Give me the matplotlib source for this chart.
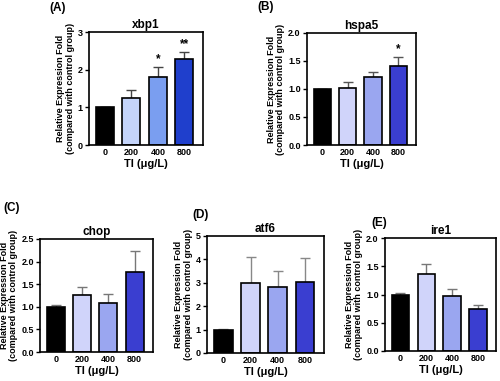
import numpy as np
import matplotlib
matplotlib.use("Agg")
import matplotlib.pyplot as plt

plt.rcParams['font.family'] = ['Liberation Sans', 'DejaVu Sans']
plt.rcParams['font.weight'] = 'bold'

doses = ["0", "200", "400", "800"]

xbp1_mean = [1.00, 1.25, 1.81, 2.27]
xbp1_err = [0.02, 0.20, 0.26, 0.20]
hspa5_mean = [1.00, 1.02, 1.21, 1.41]
hspa5_err = [0.00, 0.10, 0.09, 0.16]
chop_mean = [1.00, 1.27, 1.09, 1.78]
chop_err = [0.03, 0.16, 0.20, 0.45]
atf6_mean = [1.00, 3.00, 2.82, 3.05]
atf6_err = [0.02, 1.10, 0.68, 1.00]
ire1_mean = [0.99, 1.37, 0.97, 0.75]
ire1_err = [0.03, 0.17, 0.12, 0.07]

stars_xbp1 = ["", "", "*", "**"]
stars_hspa5 = ["", "", "", "*"]
stars_none = ["", "", "", ""]

colors_a = ["#000000", "#c4d4fa", "#7a9ef0", "#1f3fcc"]
colors_b = ["#000000", "#d0d4fa", "#9aa6f0", "#3a3ed0"]

W, H = 500, 381
fig = plt.figure(figsize=(W / 100, H / 100), dpi=100)


def px_axes(x0, y0, x1, y1):
    # pixel box (top-left origin) -> figure coords
    return fig.add_axes([x0 / W, 1 - y1 / H, (x1 - x0) / W, (y1 - y0) / H])


def panel(box, title, means, errs, stars, ymax, yticks, yfmt, colors, ecol, letter, lpos):
    ax = px_axes(*box)
    x = np.arange(len(doses))
    ax.bar(x, means, width=0.68, color=colors, edgecolor="black", linewidth=1.2, zorder=2)
    ax.errorbar(x, means, yerr=[np.zeros(len(errs)), errs], fmt="none", ecolor=ecol,
                elinewidth=1.0, capsize=3.5, capthick=1.0, zorder=1)
    for xi, m, e, s in zip(x, means, errs, stars):
        if s:
            ax.text(xi, m + e + ymax * 0.015, s, ha="center", va="bottom", fontsize=8.5, fontweight="bold")
    ax.set_xlim(-0.6, 3.7)
    ax.set_ylim(0, ymax)
    ax.set_yticks(yticks)
    ax.set_yticklabels([yfmt.format(v) for v in yticks], fontsize=6.5, fontweight="bold")
    ax.set_xticks(x)
    ax.set_xticklabels(doses, fontsize=6.5, fontweight="bold")
    ax.tick_params(axis="x", length=0, pad=2)
    ax.tick_params(axis="y", length=3, width=1.0, pad=1.5, direction="out")
    for sp in ax.spines.values():
        sp.set_linewidth(1.2)
    ax.set_title(title, fontsize=8.5, fontweight="bold", pad=3)
    ax.set_ylabel("Relative Expression Fold\n(compared with control group)", fontsize=6.5,
                  fontweight="bold", labelpad=2, linespacing=1.05)
    ax.set_xlabel("Tl (μg/L)", fontsize=8, fontweight="bold", labelpad=1.5)
    fig.text(lpos[0] / W, 1 - lpos[1] / H, letter, fontsize=8.5, fontweight="bold",
             ha="left", va="center")
    return ax


panel((89, 32, 203, 145), "xbp1", xbp1_mean, xbp1_err, stars_xbp1, 3, [0, 1, 2, 3], "{:.0f}",
      colors_a, "#444444", "(A)", (49, 8))
panel((307, 33, 416, 145), "hspa5", hspa5_mean, hspa5_err, stars_hspa5, 2.0,
      [0, 0.5, 1.0, 1.5, 2.0], "{:.1f}", colors_b, "#555555", "(B)", (257, 7))
panel((40, 239, 153, 352), "chop", chop_mean, chop_err, stars_none, 2.5,
      [0, 0.5, 1.0, 1.5, 2.0, 2.5], "{:.1f}", colors_b, "#777777", "(C)", (3, 208))
panel((207, 236, 324, 353), "atf6", atf6_mean, atf6_err, stars_none, 5,
      [0, 1, 2, 3, 4, 5], "{:.0f}", colors_b, "#888888", "(D)", (192, 215))
panel((385, 238, 496, 351), "ire1", ire1_mean, ire1_err, stars_none, 2.0,
      [0, 0.5, 1.0, 1.5, 2.0], "{:.1f}", colors_b, "#777777", "(E)", (371, 223))

fig.savefig("out.png", dpi=100)
